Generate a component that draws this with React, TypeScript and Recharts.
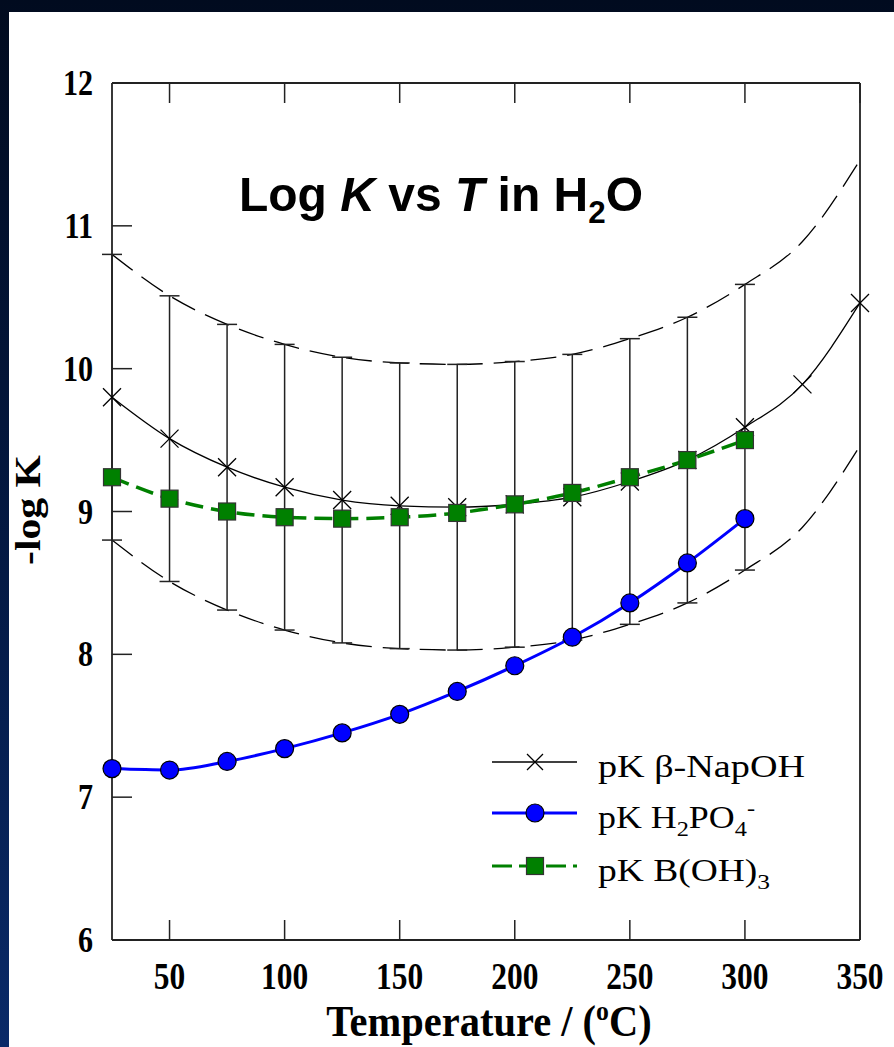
import React from "react";
import { ComposedChart, Line, XAxis, YAxis, ErrorBar } from "recharts";

// temperatures (°C) shared by all series
const temps = [25, 50, 75, 100, 125, 150, 175, 200, 225, 250, 275, 300, 325, 350];

// pK beta-NapOH with its +/- band
const napoh = [9.8, 9.51, 9.31, 9.17, 9.08, 9.04, 9.03, 9.05, 9.1, 9.21, 9.36, 9.59, 9.89, 10.46];
const napohUpper = [10.8, 10.51, 10.31, 10.17, 10.08, 10.04, 10.03, 10.05, 10.1, 10.21, 10.36, 10.59, 10.89, 11.46];
const napohLower = [8.8, 8.51, 8.31, 8.17, 8.08, 8.04, 8.03, 8.05, 8.1, 8.21, 8.36, 8.59, 8.89, 9.46];
const napohErr = [1, 1, 1, 1, 1, 1, 1, 1, 1, 1, 1, 1, null, null];

// pK H2PO4- and pK B(OH)3, 25..300 °C
const h2po4 = [7.2, 7.19, 7.25, 7.34, 7.45, 7.58, 7.74, 7.92, 8.12, 8.36, 8.64, 8.95];
const boh3 = [9.24, 9.09, 9.0, 8.96, 8.95, 8.96, 8.99, 9.05, 9.13, 9.24, 9.36, 9.5];

const xTicks = [50, 100, 150, 200, 250, 300, 350];
const yTicks = [6, 7, 8, 9, 10, 11, 12];

const rows = temps.map((t, i) => ({
  t,
  napoh: napoh[i],
  upper: napohUpper[i],
  lower: napohLower[i],
  err: napohErr[i],
  h2po4: h2po4[i] ?? null,
  boh3: boh3[i] ?? null,
}));

const W = 894;
const H = 1047;
const TICK = 20;
const AXIS = "#222";
const serif = '"Liberation Serif", "Times New Roman", serif';
const sans = '"Liberation Sans", Arial, sans-serif';

const BottomTick = (props: any) => {
  const { x, y, payload } = props;
  return (
    <g>
      <line x1={x} y1={y} x2={x} y2={y - TICK} stroke={AXIS} strokeWidth={1.5} />
      <text
        transform={`translate(${x},${y + 49}) scale(0.85,1)`}
        textAnchor="middle"
        fontFamily={serif}
        fontWeight="bold"
        fontSize={37}
        fill="#000"
      >
        {payload.value}
      </text>
    </g>
  );
};

const TopTick = (props: any) => {
  const { x, y } = props;
  return <line x1={x} y1={y} x2={x} y2={y + TICK} stroke={AXIS} strokeWidth={1.5} />;
};

const LeftTick = (props: any) => {
  const { x, y, payload } = props;
  return (
    <g>
      <line x1={x} y1={y} x2={x + TICK} y2={y} stroke={AXIS} strokeWidth={1.5} />
      <text
        transform={`translate(${x - 19},${y + 12}) scale(0.86,1)`}
        textAnchor="end"
        fontFamily={serif}
        fontWeight="bold"
        fontSize={35}
        fill="#000"
      >
        {payload.value}
      </text>
    </g>
  );
};

const RightTick = (props: any) => {
  const { x, y } = props;
  return <line x1={x} y1={y} x2={x - TICK} y2={y} stroke={AXIS} strokeWidth={1.5} />;
};

const crossPath = (cx: number, cy: number, s: number) =>
  `M${cx - s},${cy - s}L${cx + s},${cy + s}M${cx - s},${cy + s}L${cx + s},${cy - s}`;

const CrossDot = (props: any) => {
  const { cx, cy, index } = props;
  if (cx == null || cy == null) return <g key={`c${index}`} />;
  return <path key={`c${index}`} d={crossPath(cx, cy, 9)} stroke="#000" strokeWidth={1.3} fill="none" />;
};

const SquareDot = (props: any) => {
  const { cx, cy, index, value } = props;
  if (cx == null || cy == null || value == null) return <g key={`s${index}`} />;
  return (
    <rect key={`s${index}`} x={cx - 8.5} y={cy - 8.5} width={17} height={17} fill="#008000" stroke="#333" strokeWidth={1.2} />
  );
};

const Legend = () => (
  <g>
    <line x1={492} y1={762} x2={577} y2={762} stroke="#000" strokeWidth={1.3} />
    <path d={crossPath(535, 762, 8)} stroke="#000" strokeWidth={1.3} fill="none" />
    <text x={598} y={777} fontFamily={serif} fontSize={31} textLength={207} lengthAdjust="spacingAndGlyphs">
      pK β-NapOH
    </text>

    <line x1={492} y1={813} x2={577} y2={813} stroke="#0000ff" strokeWidth={3} />
    <circle cx={535} cy={813} r={9} fill="#0000ff" stroke="#000" strokeWidth={1.2} />
    <text x={598} y={828} fontFamily={serif} fontSize={31} textLength={157} lengthAdjust="spacingAndGlyphs">
      {"pK H"}
      <tspan fontSize={21} dy={8}>2</tspan>
      <tspan dy={-8}>PO</tspan>
      <tspan fontSize={21} dy={8}>4</tspan>
      <tspan fontSize={21} dy={-21}>-</tspan>
    </text>

    <line x1={492} y1={866} x2={577} y2={866} stroke="#008000" strokeWidth={3} strokeDasharray="20 7" />
    <rect x={526.5} y={857.5} width={17} height={17} fill="#008000" stroke="#333" strokeWidth={1.2} />
    <text x={598} y={881} fontFamily={serif} fontSize={31} textLength={172} lengthAdjust="spacingAndGlyphs">
      {"pK B(OH)"}
      <tspan fontSize={21} dy={8}>3</tspan>
    </text>
  </g>
);

export default function App() {
  return (
    <div
      style={{
        position: "absolute",
        left: 0,
        top: 0,
        width: W,
        height: H,
        background: "linear-gradient(to bottom, #010b1f 0%, #041a45 55%, #0a2a68 100%)",
      }}
    >
      <div style={{ position: "absolute", left: 9, top: 12, right: 0, bottom: 0, background: "#fff" }} />
      <div style={{ position: "absolute", left: 0, top: 0 }}>
        <ComposedChart width={W} height={H} data={rows} margin={{ top: 0, right: 0, bottom: 0, left: 0 }}>
          <XAxis
            xAxisId="b"
            dataKey="t"
            type="number"
            domain={[25, 350]}
            ticks={xTicks}
            orientation="bottom"
            height={107}
            tickSize={0}
            tickMargin={0}
            tick={BottomTick}
            axisLine={{ stroke: AXIS, strokeWidth: 1.8 }}
          />
          <XAxis
            xAxisId="t"
            dataKey="t"
            type="number"
            domain={[25, 350]}
            ticks={xTicks}
            orientation="top"
            height={83}
            tickSize={0}
            tickMargin={0}
            tick={TopTick}
            axisLine={{ stroke: AXIS, strokeWidth: 1.8 }}
          />
          <YAxis
            yAxisId="l"
            type="number"
            domain={[6, 12]}
            ticks={yTicks}
            width={112}
            tickSize={0}
            tickMargin={0}
            tick={LeftTick}
            axisLine={{ stroke: AXIS, strokeWidth: 1.8 }}
          />
          <YAxis
            yAxisId="r"
            type="number"
            orientation="right"
            domain={[6, 12]}
            ticks={yTicks}
            width={34}
            tickSize={0}
            tickMargin={0}
            tick={RightTick}
            axisLine={{ stroke: AXIS, strokeWidth: 1.8 }}
          />

          <Line
            xAxisId="b"
            yAxisId="l"
            type="monotone"
            dataKey="upper"
            stroke="#000"
            strokeWidth={1.3}
            strokeDasharray="26 11"
            dot={false}
            isAnimationActive={false}
          />
          <Line
            xAxisId="b"
            yAxisId="l"
            type="monotone"
            dataKey="lower"
            stroke="#000"
            strokeWidth={1.3}
            strokeDasharray="26 11"
            dot={false}
            isAnimationActive={false}
          />
          <Line
            xAxisId="b"
            yAxisId="l"
            type="monotone"
            dataKey="napoh"
            stroke="#000"
            strokeWidth={1.3}
            dot={CrossDot}
            activeDot={false}
            isAnimationActive={false}
          >
            <ErrorBar dataKey="err" width={10} stroke="#222" strokeWidth={1.5} direction="y" />
          </Line>
          <Line
            xAxisId="b"
            yAxisId="l"
            type="monotone"
            dataKey="h2po4"
            stroke="#0000ff"
            strokeWidth={3}
            dot={{ r: 9, fill: "#0000ff", stroke: "#000", strokeWidth: 1.2 }}
            activeDot={false}
            isAnimationActive={false}
          />
          <Line
            xAxisId="b"
            yAxisId="l"
            type="monotone"
            dataKey="boh3"
            stroke="#008000"
            strokeWidth={3.5}
            strokeDasharray="18 8"
            dot={SquareDot}
            activeDot={false}
            isAnimationActive={false}
          />
        </ComposedChart>
      </div>
      <svg width={W} height={H} style={{ position: "absolute", left: 0, top: 0, pointerEvents: "none" }}>
        <text
          x={441}
          y={211}
          textAnchor="middle"
          fontFamily={sans}
          fontWeight="bold"
          fontSize={49}
          textLength={404}
          lengthAdjust="spacingAndGlyphs"
        >
          {"Log "}
          <tspan fontStyle="italic">K</tspan>
          {" vs "}
          <tspan fontStyle="italic">T</tspan>
          {" in H"}
          <tspan fontSize={32} dy={12}>2</tspan>
          <tspan dy={-12}>O</tspan>
        </text>
        <text
          transform="translate(40,510) rotate(-90)"
          textAnchor="middle"
          fontFamily={serif}
          fontWeight="bold"
          fontSize={35}
          textLength={110}
          lengthAdjust="spacingAndGlyphs"
        >
          -log K
        </text>
        <text
          transform="translate(489,1036) scale(0.92,1)"
          textAnchor="middle"
          fontFamily={serif}
          fontWeight="bold"
          fontSize={44}
        >
          {"Temperature / ("}
          <tspan fontSize={28} dy={-16}>o</tspan>
          <tspan dy={16}>C)</tspan>
        </text>
        <Legend />
      </svg>
    </div>
  );
}
